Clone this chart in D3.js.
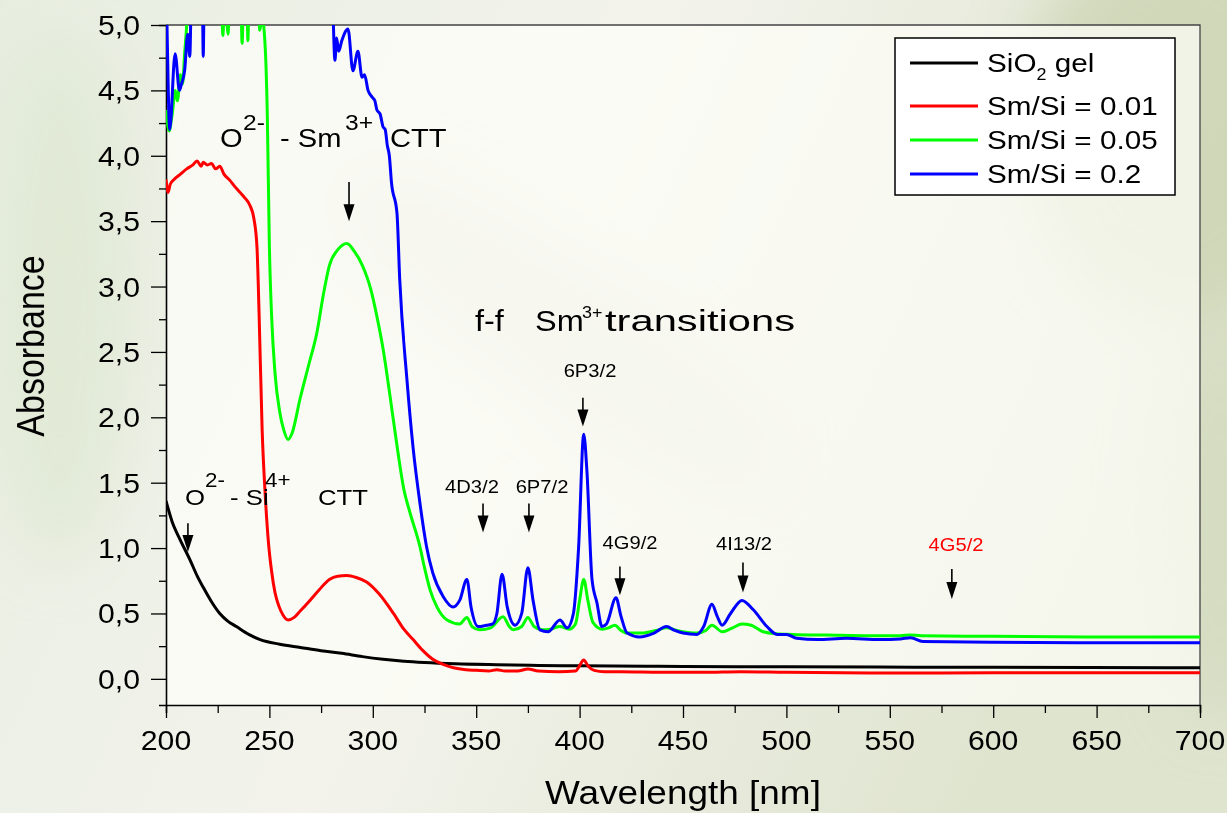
<!DOCTYPE html>
<html>
<head>
<meta charset="utf-8">
<script src="https://cdn.jsdelivr.net/npm/d3@7"></script>
<style>
  body { margin: 0; overflow: hidden; background: #eef0e4; }
  text { font-family: Arial, "Liberation Sans", sans-serif; }
</style>
</head>
<body>
<div id="chart"></div>
<script>
// spectra: [wavelength nm, absorbance]
var sio2Gel = [[200,1.36],[203,1.2],[206.8,1.065],[211.6,0.91],[215,0.79],[218,0.70],[222,0.59],[226,0.5],[230,0.44],[234,0.4],[240,0.34],[245.5,0.3],[255,0.265],[265,0.24],[275,0.215],[285,0.195],[295,0.17],[305,0.15],[315,0.135],[325,0.125],[340,0.115],[360,0.108],[380,0.103],[400,0.1],[450,0.095],[500,0.092],[600,0.088],[700,0.085]];

var smSi001 = [[200,3.82],[201,3.72],[202,3.78],[204,3.82],[207,3.86],[210,3.9],[213,3.93],[215,3.96],[217,3.92],[218,3.95],[220,3.93],[222,3.94],[224,3.9],[226,3.92],[228,3.86],[231,3.81],[233,3.77],[235.8,3.72],[238,3.68],[240.6,3.62],[242.5,3.52],[244,3.3],[245,2.8],[246.5,1.9],[248,1.4],[249.5,1.05],[251,0.83],[252.7,0.66],[254.5,0.56],[256.5,0.49],[259,0.45],[262,0.47],[265,0.52],[269.6,0.6],[274,0.68],[279,0.76],[283,0.785],[287.5,0.79],[292,0.775],[297,0.74],[303,0.65],[310,0.5],[315,0.38],[319.5,0.3],[324,0.22],[329,0.15],[334,0.11],[339,0.085],[345,0.07],[350,0.065],[356,0.06],[360,0.07],[364,0.06],[370,0.06],[375,0.075],[380,0.06],[390,0.055],[398,0.06],[400,0.1],[402,0.145],[404,0.1],[407,0.065],[412,0.055],[420,0.055],[440,0.05],[460,0.05],[478,0.055],[500,0.05],[550,0.045],[600,0.046],[650,0.046],[700,0.046]];

var smSi005 = [[200,4.35],[201.5,4.19],[203,4.32],[204.5,4.5],[205.5,4.42],[207,4.62],[208,4.55],[209,4.78],[210,5.0],[211,5.4],[226.5,5.4],[227.5,4.92],[228.5,5.3],[230,4.93],[231,5.4],[236,5.4],[236.8,4.86],[237.6,5.3],[239,5.3],[239.6,4.88],[240.3,5.4],[244.5,5.4],[245.3,4.96],[246.5,5.05],[248,4.82],[249,4.3],[250,3.3],[251,2.8],[252.7,2.34],[255,2.04],[257,1.9],[259,1.83],[261,1.88],[264.8,2.14],[269,2.4],[273,2.65],[276,2.93],[279,3.16],[283,3.28],[287.5,3.33],[291,3.27],[295,3.16],[299,2.98],[302,2.77],[305,2.52],[308,2.2],[312,1.75],[315,1.45],[318,1.27],[322.8,1.01],[325,0.85],[327.7,0.68],[331,0.55],[335.9,0.45],[342,0.42],[345.5,0.47],[348,0.4],[351.8,0.375],[357,0.39],[363,0.475],[366,0.4],[368,0.375],[372,0.4],[375,0.47],[378,0.4],[382,0.375],[386,0.38],[390.5,0.4],[395,0.38],[398,0.42],[400,0.6],[402,0.76],[404,0.6],[406.5,0.43],[411,0.38],[414,0.39],[417,0.41],[420,0.37],[423,0.35],[430,0.35],[437,0.37],[442,0.39],[447,0.37],[456.8,0.35],[461,0.37],[464,0.41],[469,0.36],[474,0.39],[478.5,0.42],[483,0.41],[488.7,0.36],[495,0.345],[503,0.34],[520,0.335],[540,0.33],[555,0.33],[560,0.335],[565,0.33],[600,0.325],[650,0.32],[700,0.32]];

var smSi02 = [[200,5.4],[200.6,4.9],[201.8,4.2],[204.4,4.78],[206.5,4.5],[207.5,4.55],[209,4.65],[210.5,4.93],[211.5,4.76],[212.5,5.4],[217.5,5.4],[218,4.76],[218.6,5.4],[280,5.4],[281.7,4.73],[282.5,4.9],[283.5,4.8],[285,4.88],[288,4.97],[290.4,4.65],[292.8,4.8],[294.8,4.6],[296,4.62],[297.7,4.5],[299.6,4.45],[301,4.42],[302,4.35],[303.5,4.32],[305,4.22],[306,4.2],[307,4.08],[308,4.0],[309,3.8],[311.7,3.56],[313,3.06],[316.5,2.29],[319.4,1.78],[323,1.32],[326,1.01],[329,0.81],[334,0.63],[338.8,0.55],[342,0.6],[345.5,0.76],[347.5,0.55],[351,0.4],[355,0.41],[358,0.42],[360,0.5],[362.5,0.8],[365,0.55],[368.8,0.41],[372,0.5],[375,0.85],[377.5,0.6],[380.8,0.375],[384.7,0.36],[390.5,0.45],[394,0.39],[397,0.5],[399.5,1.0],[402,1.87],[403.5,1.6],[406,0.76],[408.4,0.58],[410.8,0.4],[413,0.42],[417.6,0.62],[420,0.48],[423,0.35],[429,0.32],[436,0.35],[442,0.4],[446,0.37],[450,0.35],[456.8,0.34],[460,0.4],[464,0.57],[466.5,0.48],[468.9,0.41],[473,0.5],[478.5,0.6],[483.9,0.53],[490.6,0.4],[495.5,0.34],[500,0.34],[505,0.31],[515,0.3],[529,0.31],[545,0.3],[555,0.305],[560,0.315],[566,0.285],[600,0.28],[650,0.276],[700,0.276]];

var seriesNames = ["SiO2 gel", "Sm/Si = 0.01", "Sm/Si = 0.05", "Sm/Si = 0.2"];
var seriesColors = ["#000000", "#ff0000", "#00ff00", "#0000ff"];
var xTickValues = [200, 250, 300, 350, 400, 450, 500, 550, 600, 650, 700];
var yTickValues = [0, 0.5, 1, 1.5, 2, 2.5, 3, 3.5, 4, 4.5, 5];

var w = 1227, h = 813;
var margin = { top: 25, right: 27, bottom: 108, left: 166 };
var width = w - margin.left - margin.right;
var height = h - margin.top - margin.bottom;
var sx = 1.12; // text in the source is a bit wider than tall

var svg = d3.select("#chart").append("svg").attr("width", w).attr("height", h);
var defs = svg.append("defs");

// faded photo-like background
var bg = defs.append("linearGradient").attr("id", "bg").attr("x1", 0).attr("x2", 1).attr("y1", 0).attr("y2", 0.3);
bg.append("stop").attr("offset", 0).attr("stop-color", "#e7eee0");
bg.append("stop").attr("offset", 0.5).attr("stop-color", "#f3f3ec");
bg.append("stop").attr("offset", 1).attr("stop-color", "#dfe4cf");
defs.append("filter").attr("id", "blur").append("feGaussianBlur").attr("stdDeviation", 30);
svg.append("rect").attr("width", w).attr("height", h).attr("fill", "url(#bg)");
var blobs = svg.append("g").attr("filter", "url(#blur)");
blobs.append("ellipse").attr("cx", 1180).attr("cy", 120).attr("rx", 160).attr("ry", 200).attr("fill", "#c9d2ae").attr("opacity", 0.7);
blobs.append("ellipse").attr("cx", 60).attr("cy", 300).attr("rx", 70).attr("ry", 260).attr("fill", "#dfe8d3").attr("opacity", 0.8);
blobs.append("ellipse").attr("cx", 1220).attr("cy", 520).attr("rx", 60).attr("ry", 200).attr("fill", "#d2d9bd").attr("opacity", 0.8);
blobs.append("ellipse").attr("cx", 560).attr("cy", 330).attr("rx", 260).attr("ry", 70).attr("transform", "rotate(35,560,330)").attr("fill", "#d9dccb").attr("opacity", 0.6);

var x = d3.scaleLinear().domain([200, 700]).range([margin.left, margin.left + width]);
var y = d3.scaleLinear().domain([-0.2, 5]).range([margin.top + height, margin.top]);

// plot area
svg.append("rect")
  .attr("x", margin.left).attr("y", margin.top)
  .attr("width", width).attr("height", height)
  .attr("fill", "#fdfdf8").attr("opacity", 0.72);

defs.append("clipPath").attr("id", "plotclip").append("rect")
  .attr("x", margin.left).attr("y", margin.top)
  .attr("width", width).attr("height", height);

// frame (top and right)
svg.append("path")
  .attr("d", "M" + margin.left + "," + margin.top + "H" + (margin.left + width) + "V" + (margin.top + height))
  .attr("fill", "none").attr("stroke", "#444").attr("stroke-width", 1.3);

// axes
var xAxis = d3.axisBottom(x).tickValues(d3.range(200, 701, 25)).tickSize(8).tickFormat("");
var gx = svg.append("g").attr("transform", "translate(0," + (margin.top + height) + ")").call(xAxis);
gx.selectAll(".tick line").filter(function(d) { return d % 50 === 0; }).attr("y2", 13);

var yAxis = d3.axisLeft(y).tickValues(d3.range(0, 5.01, 0.25)).tickSize(7).tickFormat("");
var gy = svg.append("g").attr("transform", "translate(" + margin.left + ",0)").call(yAxis);
gy.selectAll(".tick line").filter(function(d) { return Math.abs(d * 2 - Math.round(d * 2)) < 1e-6; }).attr("x2", -15);

[gx, gy].forEach(function(g) {
  g.select(".domain").attr("stroke", "#000").attr("stroke-width", 1.6);
  g.selectAll(".tick line").attr("stroke", "#000").attr("stroke-width", 1.3);
});

function txt(px, py, str, size, anchor, fill) {
  return svg.append("text")
    .attr("transform", "translate(" + px + "," + py + ") scale(" + sx + ",1)")
    .attr("text-anchor", anchor || "start")
    .attr("fill", fill || "#000")
    .style("font-size", size + "px")
    .text(str);
}

var fmt = d3.format(".1f");
xTickValues.forEach(function(d) { txt(x(d), 750, d, 27, "middle"); });
yTickValues.forEach(function(d) { txt(140, y(d) + 10, fmt(d).replace(".", ","), 27, "end"); });

// axis titles
txt(683, 804, "Wavelength [nm]", 33, "middle");
svg.append("text")
  .attr("transform", "translate(44,346) rotate(-90) scale(1," + sx + ")")
  .attr("text-anchor", "middle")
  .style("font-size", "34px")
  .text("Absorbance");

// curves
var line = d3.line()
  .x(function(d) { return x(d[0]); })
  .y(function(d) { return y(d[1]); })
  .curve(d3.curveMonotoneX);

var curves = svg.append("g").attr("clip-path", "url(#plotclip)");
[sio2Gel, smSi001, smSi005, smSi02].forEach(function(data, i) {
  curves.append("path")
    .datum(data)
    .attr("fill", "none")
    .attr("stroke", seriesColors[i])
    .attr("stroke-width", 3)
    .attr("stroke-linejoin", "round")
    .attr("d", line);
});

// arrows
function arrow(nm, a0, a1) {
  var ax = x(nm), y0 = y(a0), y1 = y(a1);
  svg.append("line").attr("x1", ax).attr("x2", ax).attr("y1", y0).attr("y2", y1 - 10)
    .attr("stroke", "#000").attr("stroke-width", 1.6);
  svg.append("path")
    .attr("d", "M" + (ax - 5.5) + "," + (y1 - 17) + "L" + (ax + 5.5) + "," + (y1 - 17) + "L" + ax + "," + y1 + "Z")
    .attr("fill", "#000");
}
arrow(288.5, 3.80, 3.50);
arrow(401.6, 2.15, 1.93);
arrow(353.3, 1.34, 1.12);
arrow(375.5, 1.34, 1.12);
arrow(419.5, 0.86, 0.64);
arrow(479, 0.89, 0.66);
arrow(580, 0.84, 0.61);
arrow(210.6, 1.19, 0.97);

// transition labels
txt(590, 377, "6P3/2", 18, "middle");
txt(472, 493, "4D3/2", 18, "middle");
txt(542, 493, "6P7/2", 18, "middle");
txt(630, 549, "4G9/2", 18, "middle");
txt(744, 550, "4I13/2", 18, "middle");
txt(956, 551, "4G5/2", 18, "middle", "#ff0000");

// charge transfer labels
txt(220, 147, "O", 26);
txt(243, 130, "2-", 22);
txt(280, 147, "- Sm", 26);
txt(345, 130, "3+", 22);
txt(390, 147, "CTT", 26);

txt(185, 505, "O", 23);
txt(205, 487, "2-", 20);
txt(230, 505, "- Si", 23);
txt(265, 487, "4+", 20);
txt(318, 505, "CTT", 23);

txt(475, 331, "f-f", 29);
txt(535, 331, "Sm", 29);
txt(582, 318, "3+", 16);
txt(605, 331, "transitions", 29)
  .attr("textLength", 190 / sx).attr("lengthAdjust", "spacingAndGlyphs");

// legend
var lg = svg.append("g");
lg.append("rect").attr("x", 895).attr("y", 38).attr("width", 280).attr("height", 157)
  .attr("fill", "#fff").attr("stroke", "#000").attr("stroke-width", 1.5);
var rowsY = [63, 106, 140, 174];
seriesNames.forEach(function(name, i) {
  lg.append("line").attr("x1", 910).attr("x2", 978).attr("y1", rowsY[i]).attr("y2", rowsY[i])
    .attr("stroke", seriesColors[i]).attr("stroke-width", 3);
  if (i === 0) {
    var t = txt(987, rowsY[i] + 9, "", 26.5);
    t.append("tspan").text("SiO");
    t.append("tspan").attr("dy", 8).style("font-size", "16px").text("2");
    t.append("tspan").attr("dy", -8).text(" gel");
  } else {
    txt(987, rowsY[i] + 9, name, 26.5);
  }
});
</script>
</body>
</html>
